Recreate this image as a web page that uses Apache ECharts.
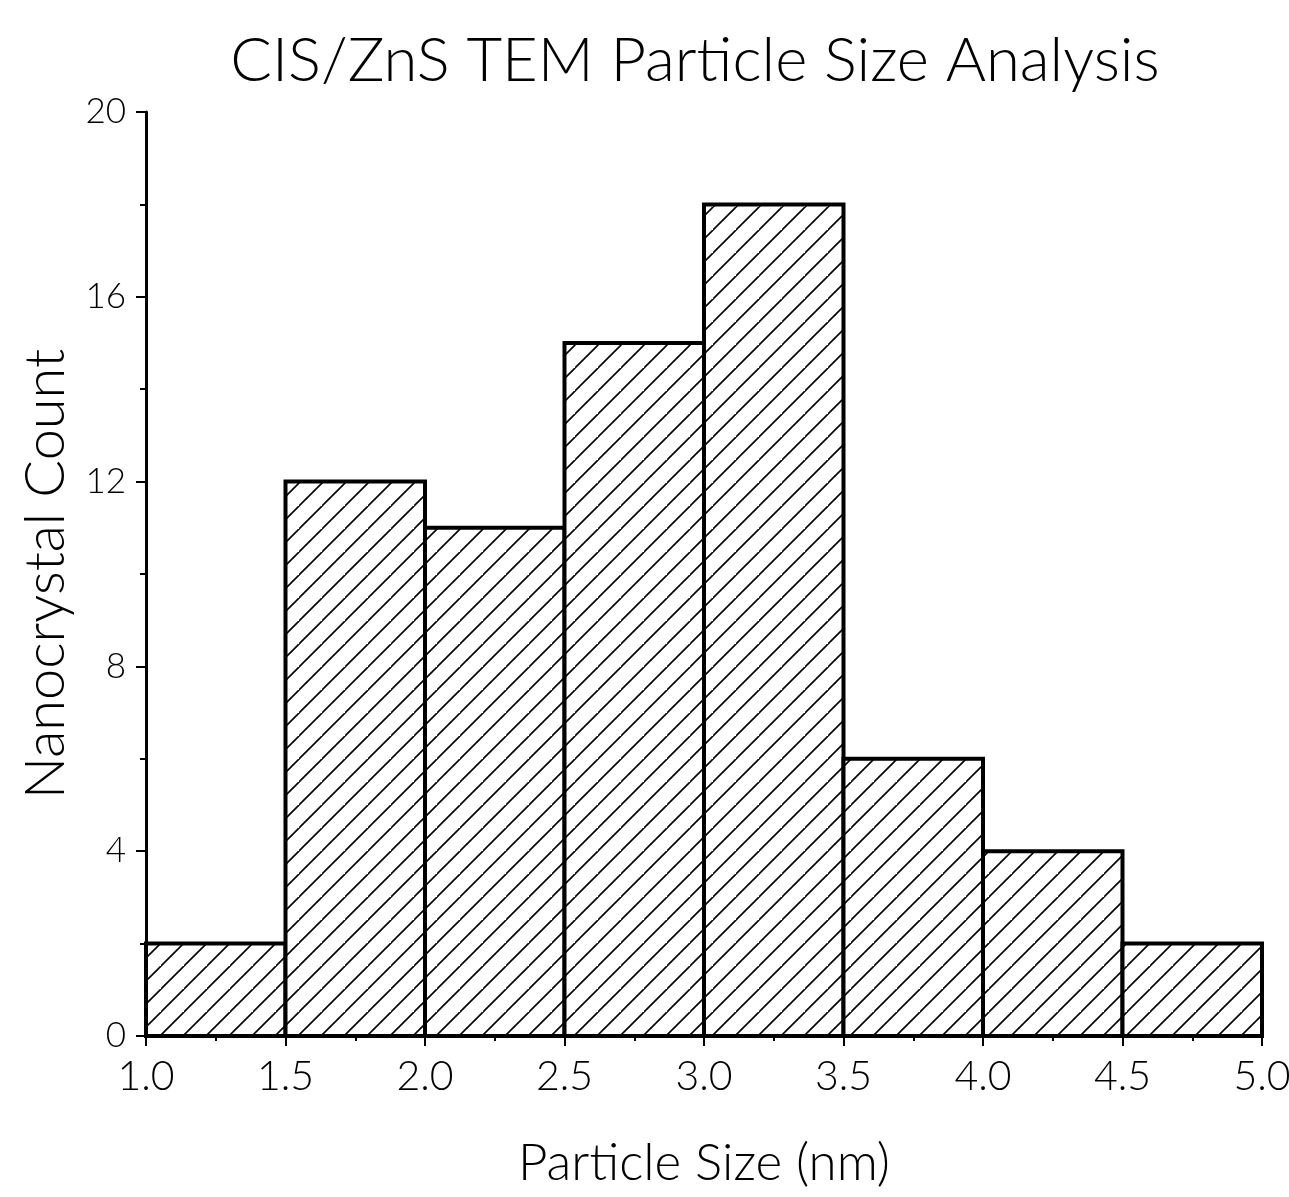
<!DOCTYPE html>
<html><head><meta charset="utf-8">
<script src="https://cdn.jsdelivr.net/npm/echarts@6/dist/echarts.min.js"></script>
<style>html,body{margin:0;padding:0;background:#fff}#c{width:1289px;height:1197px}</style>
</head><body><div id="c"></div>
<script>
const binStarts = [1.0, 1.5, 2.0, 2.5, 3.0, 3.5, 4.0, 4.5];
const binWidth = 0.5;
const counts = [2, 12, 11, 15, 18, 6, 4, 2];
const titleText = 'CIS/ZnS TEM Particle Size Analysis';
const xName = 'Particle Size (nm)';
const yName = 'Nanocrystal Count';

const FONT = 'Lato';
const W = 300;
// fit font size to a target text width
const mctx = document.createElement('canvas').getContext('2d');
function fit(text, family, target){
  mctx.font = W + ' 100px "' + family + '"';
  return Math.round(100 * target / mctx.measureText(text).width * 10) / 10;
}
const titleSize = fit(titleText, FONT, 930);
const xNameSize = fit(xName, FONT, 372);
const yNameSize = fit(yName, FONT, 450);

// hatch pattern
const s = 23;
const pc = document.createElement('canvas');
pc.width = s; pc.height = s;
const g = pc.getContext('2d');
g.fillStyle = '#fff'; g.fillRect(0,0,s,s);
g.strokeStyle = '#000'; g.lineWidth = 1.6;
g.beginPath();
g.moveTo(-2, s+2); g.lineTo(s+2, -2);
g.moveTo(-2 - s, s+2); g.lineTo(2, -2);
g.moveTo(s-2, 2*s+2); g.lineTo(2*s+2, s-2);
g.stroke();

const data = binStarts.map((b,i)=>[b, b+binWidth, counts[i]]);
const chart = echarts.init(document.getElementById('c'));
chart.setOption({
  animation:false,
  title:{text:titleText, left:690, textAlign:'center', top:85 - titleSize*0.98,
    textStyle:{fontFamily:FONT, fontSize:titleSize, fontWeight:W, color:'#000'}},
  grid:{left:146, right:27, top:112, bottom:161, outerBoundsMode:'none', containLabel:false},
  xAxis:{type:'value', min:1, max:5, interval:0.5,
    name:xName, nameLocation:'middle', nameGap:1180 - 1036 - xNameSize*0.82,
    nameTextStyle:{fontFamily:FONT, fontSize:xNameSize, fontWeight:W, color:'#000'},
    axisLine:{show:true, onZero:false, lineStyle:{color:'#000', width:3}},
    axisTick:{show:true, inside:false, length:10, lineStyle:{color:'#000', width:2}},
    minorTick:{show:true, splitNumber:2, length:5, lineStyle:{color:'#000', width:2}},
    splitLine:{show:false},
    axisLabel:{fontFamily:FONT, fontSize:41, fontWeight:W, color:'#000', margin:20, hideOverlap:false, formatter:v=>v.toFixed(1)}},
  yAxis:{type:'value', min:0, max:20, interval:4,
    name:yName, nameLocation:'middle', nameGap:146 - 74,
    nameTextStyle:{fontFamily:FONT, fontSize:yNameSize, fontWeight:W, color:'#000'},
    axisLine:{show:true, lineStyle:{color:'#000', width:3}},
    axisTick:{show:true, inside:false, length:10, lineStyle:{color:'#000', width:2}},
    minorTick:{show:true, splitNumber:2, length:6, lineStyle:{color:'#000', width:2}},
    splitLine:{show:false},
    axisLabel:{fontFamily:FONT, fontSize:35, fontWeight:W, color:'#000', margin:20}},
  series:[{
    type:'custom',
    data:data,
    renderItem:function(params, api){
      const p0 = api.coord([api.value(0), api.value(2)]);
      const p1 = api.coord([api.value(1), 0]);
      return {type:'rect', shape:{x:p0[0], y:p0[1], width:p1[0]-p0[0], height:p1[1]-p0[1]},
        style:{fill:{image:pc, repeat:'repeat'}, stroke:'#000', lineWidth:4}};
    },
    encode:{x:[0,1], y:2}
  }]
});
</script></body></html>
